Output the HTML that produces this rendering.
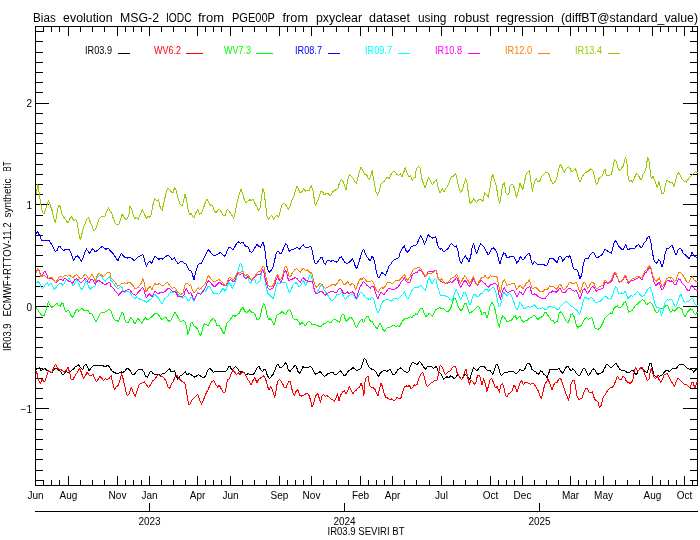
<!DOCTYPE html>
<html><head><meta charset="utf-8"><title>Bias evolution</title>
<style>
html,body{margin:0;padding:0;background:#fff;}
body{width:700px;height:540px;overflow:hidden;}
svg{display:block;will-change:transform;}
text{font-family:"Liberation Sans",sans-serif;fill:#000;}
</style></head><body>
<svg width="700" height="540" viewBox="0 0 700 540">
<rect width="700" height="540" fill="#fff"/>
<g stroke="#000" stroke-width="1" fill="none" shape-rendering="crispEdges">
<path d="M35.5 26.5H697.5V485.5H35.5Z"/>
<path d="M68.5 26.5v9.5M68.5 485.5v-9.5M117.5 26.5v9.5M117.5 485.5v-9.5M149.5 26.5v9.5M149.5 485.5v-9.5M197.5 26.5v9.5M197.5 485.5v-9.5M230.5 26.5v9.5M230.5 485.5v-9.5M279.5 26.5v9.5M279.5 485.5v-9.5M311.5 26.5v9.5M311.5 485.5v-9.5M360.5 26.5v9.5M360.5 485.5v-9.5M392.5 26.5v9.5M392.5 485.5v-9.5M441.5 26.5v9.5M441.5 485.5v-9.5M490.5 26.5v9.5M490.5 485.5v-9.5M522.5 26.5v9.5M522.5 485.5v-9.5M570.5 26.5v9.5M570.5 485.5v-9.5M603.5 26.5v9.5M603.5 485.5v-9.5M652.5 26.5v9.5M652.5 485.5v-9.5M684.5 26.5v9.5M684.5 485.5v-9.5M43.5 26.5v5.5M43.5 485.5v-5.5M51.5 26.5v5.5M51.5 485.5v-5.5M59.5 26.5v5.5M59.5 485.5v-5.5M80.5 26.5v5.5M80.5 485.5v-5.5M92.5 26.5v5.5M92.5 485.5v-5.5M104.5 26.5v5.5M104.5 485.5v-5.5M125.5 26.5v5.5M125.5 485.5v-5.5M133.5 26.5v5.5M133.5 485.5v-5.5M141.5 26.5v5.5M141.5 485.5v-5.5M161.5 26.5v5.5M161.5 485.5v-5.5M173.5 26.5v5.5M173.5 485.5v-5.5M185.5 26.5v5.5M185.5 485.5v-5.5M205.5 26.5v5.5M205.5 485.5v-5.5M213.5 26.5v5.5M213.5 485.5v-5.5M221.5 26.5v5.5M221.5 485.5v-5.5M242.5 26.5v5.5M242.5 485.5v-5.5M254.5 26.5v5.5M254.5 485.5v-5.5M266.5 26.5v5.5M266.5 485.5v-5.5M287.5 26.5v5.5M287.5 485.5v-5.5M295.5 26.5v5.5M295.5 485.5v-5.5M303.5 26.5v5.5M303.5 485.5v-5.5M323.5 26.5v5.5M323.5 485.5v-5.5M336.5 26.5v5.5M336.5 485.5v-5.5M348.5 26.5v5.5M348.5 485.5v-5.5M368.5 26.5v5.5M368.5 485.5v-5.5M376.5 26.5v5.5M376.5 485.5v-5.5M384.5 26.5v5.5M384.5 485.5v-5.5M404.5 26.5v5.5M404.5 485.5v-5.5M416.5 26.5v5.5M416.5 485.5v-5.5M429.5 26.5v5.5M429.5 485.5v-5.5M453.5 26.5v5.5M453.5 485.5v-5.5M465.5 26.5v5.5M465.5 485.5v-5.5M477.5 26.5v5.5M477.5 485.5v-5.5M498.5 26.5v5.5M498.5 485.5v-5.5M506.5 26.5v5.5M506.5 485.5v-5.5M514.5 26.5v5.5M514.5 485.5v-5.5M534.5 26.5v5.5M534.5 485.5v-5.5M546.5 26.5v5.5M546.5 485.5v-5.5M558.5 26.5v5.5M558.5 485.5v-5.5M578.5 26.5v5.5M578.5 485.5v-5.5M586.5 26.5v5.5M586.5 485.5v-5.5M595.5 26.5v5.5M595.5 485.5v-5.5M615.5 26.5v5.5M615.5 485.5v-5.5M627.5 26.5v5.5M627.5 485.5v-5.5M639.5 26.5v5.5M639.5 485.5v-5.5M660.5 26.5v5.5M660.5 485.5v-5.5M668.5 26.5v5.5M668.5 485.5v-5.5M676.5 26.5v5.5M676.5 485.5v-5.5M692.5 26.5v5.5M692.5 485.5v-5.5"/>
<path d="M35.5 480.5h7.5M697.5 480.5h-7.5M35.5 470.5h7.5M697.5 470.5h-7.5M35.5 459.5h7.5M697.5 459.5h-7.5M35.5 449.5h7.5M697.5 449.5h-7.5M35.5 439.5h7.5M697.5 439.5h-7.5M35.5 429.5h7.5M697.5 429.5h-7.5M35.5 419.5h7.5M697.5 419.5h-7.5M35.5 408.5h13.5M697.5 408.5h-14.5M35.5 398.5h7.5M697.5 398.5h-7.5M35.5 388.5h7.5M697.5 388.5h-7.5M35.5 378.5h7.5M697.5 378.5h-7.5M35.5 368.5h7.5M697.5 368.5h-7.5M35.5 357.5h7.5M697.5 357.5h-7.5M35.5 347.5h7.5M697.5 347.5h-7.5M35.5 337.5h7.5M697.5 337.5h-7.5M35.5 327.5h7.5M697.5 327.5h-7.5M35.5 317.5h7.5M697.5 317.5h-7.5M35.5 306.5h13.5M697.5 306.5h-14.5M35.5 296.5h7.5M697.5 296.5h-7.5M35.5 286.5h7.5M697.5 286.5h-7.5M35.5 276.5h7.5M697.5 276.5h-7.5M35.5 266.5h7.5M697.5 266.5h-7.5M35.5 255.5h7.5M697.5 255.5h-7.5M35.5 245.5h7.5M697.5 245.5h-7.5M35.5 235.5h7.5M697.5 235.5h-7.5M35.5 225.5h7.5M697.5 225.5h-7.5M35.5 215.5h7.5M697.5 215.5h-7.5M35.5 204.5h13.5M697.5 204.5h-14.5M35.5 194.5h7.5M697.5 194.5h-7.5M35.5 184.5h7.5M697.5 184.5h-7.5M35.5 174.5h7.5M697.5 174.5h-7.5M35.5 164.5h7.5M697.5 164.5h-7.5M35.5 153.5h7.5M697.5 153.5h-7.5M35.5 143.5h7.5M697.5 143.5h-7.5M35.5 133.5h7.5M697.5 133.5h-7.5M35.5 123.5h7.5M697.5 123.5h-7.5M35.5 113.5h7.5M697.5 113.5h-7.5M35.5 103.5h13.5M697.5 103.5h-14.5M35.5 92.5h7.5M697.5 92.5h-7.5M35.5 82.5h7.5M697.5 82.5h-7.5M35.5 72.5h7.5M697.5 72.5h-7.5M35.5 62.5h7.5M697.5 62.5h-7.5M35.5 52.5h7.5M697.5 52.5h-7.5M35.5 41.5h7.5M697.5 41.5h-7.5M35.5 31.5h7.5M697.5 31.5h-7.5"/>
<path d="M35 511.5H698M149.5 511.5v-9M344.5 511.5v-9M539.5 511.5v-9"/>
</g>
<path d="M36.0 369.3 L37.9 368.6 L39.3 367.6 L41.1 370.7 L43.1 369.6 L45.0 368.6 L46.9 370.4 L48.6 371.4 L50.3 372.1 L52.1 372.9 L53.6 370.0 L55.4 368.1 L57.1 369.0 L58.9 370.4 L60.7 371.4 L62.6 375.0 L64.3 373.6 L66.0 371.4 L67.9 372.9 L69.7 372.1 L71.4 370.7 L73.6 369.0 L75.4 366.7 L77.1 366.1 L78.9 364.7 L80.7 367.9 L82.6 369.6 L84.3 365.7 L86.0 364.3 L87.4 366.4 L88.9 370.4 L90.7 368.6 L92.6 366.1 L94.3 365.7 L96.0 365.0 L97.9 365.3 L99.7 365.7 L101.4 365.3 L103.1 365.7 L105.0 367.1 L106.9 365.7 L108.3 365.3 L110.0 367.9 L111.7 370.7 L113.6 372.1 L115.4 372.9 L117.4 373.9 L119.3 372.9 L121.1 371.9 L122.9 372.4 L124.6 371.4 L126.4 369.0 L128.3 368.6 L130.0 370.4 L132.4 375.0 L134.3 374.3 L136.1 372.1 L138.1 370.0 L140.0 369.3 L142.1 369.6 L143.9 372.1 L145.7 376.4 L147.6 377.1 L149.3 373.6 L151.0 370.7 L152.9 373.6 L154.7 374.3 L156.7 374.7 L158.6 374.3 L160.4 375.3 L162.4 373.6 L164.3 373.9 L166.1 372.1 L167.9 370.0 L169.6 368.6 L171.0 371.4 L172.9 371.9 L174.6 370.7 L176.1 375.7 L177.9 379.3 L179.6 376.4 L181.4 375.3 L183.6 373.6 L185.3 371.9 L187.1 375.0 L189.0 373.6 L190.7 374.3 L192.4 375.7 L194.3 377.1 L196.1 376.4 L198.1 374.7 L200.0 375.7 L201.9 377.1 L203.9 378.1 L205.7 375.7 L207.6 370.7 L209.6 368.1 L211.4 370.0 L213.3 372.1 L215.3 371.9 L217.6 371.4 L219.6 371.0 L221.4 371.4 L223.3 371.4 L225.0 371.4 L226.4 371.0 L228.3 367.1 L230.0 366.4 L231.7 370.0 L233.6 368.6 L235.4 366.4 L237.1 367.9 L238.9 370.7 L240.7 372.1 L242.6 371.4 L244.3 372.9 L246.0 375.0 L247.9 373.6 L249.7 374.3 L251.7 374.7 L253.6 374.3 L255.4 371.4 L257.1 367.9 L258.9 366.4 L260.7 370.0 L262.6 371.4 L264.3 369.0 L265.7 370.0 L267.4 375.7 L269.3 378.6 L271.1 376.7 L273.1 374.3 L275.0 370.0 L276.9 365.0 L278.3 364.3 L280.0 367.6 L281.7 367.1 L283.6 365.7 L285.4 362.4 L286.9 365.0 L288.3 370.0 L290.0 371.4 L291.7 369.3 L293.6 367.1 L295.0 365.3 L296.4 366.4 L297.9 371.4 L299.3 373.6 L301.1 370.7 L302.9 366.7 L304.6 367.6 L306.4 367.1 L308.3 367.6 L310.3 366.4 L312.1 367.9 L314.0 372.1 L315.7 374.3 L317.9 373.3 L320.0 371.4 L320.7 372.1 L322.4 374.3 L324.3 376.4 L326.1 375.7 L327.9 373.6 L329.6 373.3 L331.4 372.4 L333.3 372.9 L335.0 375.0 L336.7 374.3 L338.6 372.1 L340.4 371.0 L342.1 372.9 L343.9 375.7 L345.7 375.0 L347.6 372.1 L349.3 370.4 L351.0 369.3 L352.9 367.6 L354.7 368.6 L356.4 370.7 L358.1 370.0 L360.0 369.3 L361.4 367.1 L362.9 362.1 L364.3 358.6 L365.7 359.3 L367.1 362.9 L368.6 366.4 L370.4 368.1 L372.1 369.6 L373.9 370.0 L375.7 371.4 L377.1 374.3 L378.6 376.1 L380.4 372.9 L382.1 371.4 L383.9 370.7 L385.7 371.0 L387.6 371.0 L389.3 369.6 L390.7 370.0 L392.1 373.6 L393.9 375.0 L395.7 372.9 L397.6 370.0 L399.3 368.6 L400.7 367.9 L402.4 369.6 L404.3 371.0 L406.1 372.1 L407.6 372.9 L409.0 370.7 L410.4 365.7 L412.1 362.9 L413.9 362.9 L415.0 363.3 L417.1 365.0 L418.6 362.4 L419.7 361.4 L421.4 363.6 L423.1 366.4 L425.4 369.3 L427.1 367.1 L429.3 366.4 L431.4 366.7 L433.6 368.6 L435.4 367.1 L436.4 366.4 L437.9 370.7 L439.7 372.9 L441.7 375.0 L443.6 379.3 L445.4 377.6 L447.1 376.7 L448.9 377.9 L450.7 375.7 L452.6 376.7 L454.0 379.3 L455.7 377.1 L457.9 374.3 L459.7 377.1 L461.4 379.6 L463.1 377.1 L465.0 374.3 L466.9 375.7 L468.6 378.6 L470.0 379.3 L471.7 372.9 L473.6 367.6 L475.4 369.3 L476.9 370.7 L478.6 368.6 L480.7 366.4 L482.6 366.7 L484.3 366.7 L486.0 369.0 L487.9 370.7 L489.7 370.0 L491.1 372.1 L492.9 374.3 L494.3 370.0 L495.7 365.7 L497.1 363.9 L498.6 367.9 L500.0 372.9 L501.4 375.7 L503.1 373.6 L505.0 372.4 L507.1 372.9 L508.9 371.4 L510.0 371.4 L510.7 371.9 L512.4 371.4 L514.3 372.1 L516.1 373.9 L517.9 372.1 L520.0 369.6 L521.9 370.4 L523.6 371.0 L525.3 367.9 L527.1 363.9 L529.0 363.3 L530.4 364.7 L531.9 369.3 L533.6 370.7 L535.3 371.4 L537.1 373.6 L538.6 374.3 L540.4 371.0 L542.1 371.4 L543.9 374.3 L545.7 375.7 L547.1 378.1 L548.6 373.6 L550.0 369.6 L551.9 369.3 L553.9 370.0 L555.7 369.6 L557.6 369.3 L559.3 368.6 L561.0 371.4 L562.9 373.3 L564.7 370.0 L566.4 366.7 L568.1 366.7 L569.6 369.3 L571.4 370.7 L572.9 368.6 L574.7 370.7 L576.4 373.6 L578.1 375.3 L580.0 375.0 L581.9 371.4 L583.3 368.6 L584.7 368.6 L586.4 372.1 L588.6 375.7 L590.4 372.9 L592.1 370.0 L593.9 368.6 L595.7 371.4 L597.6 374.3 L599.6 373.6 L601.4 372.9 L603.3 371.4 L604.3 367.9 L605.0 367.6 L605.7 365.0 L607.4 364.3 L609.3 366.4 L611.1 367.9 L612.9 366.4 L614.6 364.3 L616.4 363.6 L618.3 367.1 L620.0 369.6 L622.1 370.4 L624.0 370.7 L625.7 371.4 L627.9 372.9 L629.7 372.9 L631.4 370.0 L633.1 370.7 L635.0 373.6 L636.4 375.0 L637.9 371.4 L639.7 369.3 L641.4 368.1 L643.1 369.6 L645.0 371.4 L646.9 372.9 L648.6 367.9 L650.0 362.9 L651.4 363.6 L652.6 370.0 L654.0 375.0 L655.7 376.4 L657.9 375.7 L659.7 376.1 L661.7 375.7 L663.6 372.9 L665.4 371.0 L667.1 370.4 L669.3 371.4 L671.1 370.0 L672.9 367.9 L674.6 368.6 L676.4 368.6 L678.3 365.7 L680.3 364.3 L682.1 364.3 L684.0 365.0 L685.7 366.7 L687.9 368.6 L690.0 369.3 L691.7 369.6 L693.6 372.1 L695.4 370.0 L697.1 368.6 L697.5 368.6" fill="none" stroke="#000000" stroke-width="1" stroke-linejoin="round" shape-rendering="crispEdges"/>
<path d="M36.0 371.4 L37.1 373.6 L38.6 380.7 L40.3 383.3 L42.1 379.3 L44.0 381.9 L45.4 380.7 L46.9 375.0 L48.3 370.7 L50.0 371.4 L51.7 372.9 L53.6 367.9 L55.4 364.3 L57.1 367.1 L58.9 370.0 L60.7 369.3 L62.6 370.7 L64.3 372.1 L66.0 370.7 L67.9 367.1 L69.3 371.4 L71.1 379.0 L73.1 379.3 L75.0 375.7 L76.9 372.9 L78.6 370.0 L80.0 368.6 L81.7 373.6 L83.6 378.6 L85.4 375.7 L87.1 372.1 L88.9 375.0 L90.7 375.7 L92.9 374.3 L94.6 378.6 L96.4 381.4 L98.3 379.3 L100.0 376.4 L101.7 378.1 L103.6 380.7 L105.4 378.6 L107.1 379.3 L109.3 378.1 L111.1 375.7 L112.9 383.6 L114.6 390.0 L116.4 386.4 L118.3 385.7 L120.0 380.0 L121.7 373.6 L123.6 380.7 L125.4 389.3 L127.1 395.7 L128.9 394.3 L130.0 390.7 L131.4 387.6 L133.3 392.9 L135.3 396.1 L137.1 390.7 L139.0 385.0 L140.7 383.3 L142.4 382.9 L144.3 381.9 L146.1 384.3 L148.6 387.9 L150.7 384.3 L152.9 380.7 L154.7 379.3 L156.7 376.4 L158.6 374.7 L160.4 376.4 L162.4 376.7 L164.3 378.1 L166.1 381.4 L167.9 387.1 L169.6 388.6 L171.4 383.6 L173.3 381.4 L175.0 377.1 L177.1 375.0 L179.0 378.6 L181.0 380.7 L182.9 382.1 L184.7 382.4 L186.1 389.3 L187.6 399.3 L188.9 405.0 L190.7 402.9 L192.4 399.3 L194.3 397.6 L196.1 395.7 L197.9 394.3 L199.6 400.0 L201.4 404.3 L203.3 400.7 L205.0 395.7 L206.7 392.1 L208.6 388.6 L210.4 383.6 L212.1 381.4 L213.9 380.7 L215.7 384.3 L217.6 387.1 L219.0 384.7 L220.7 387.9 L222.4 391.0 L223.9 392.9 L225.0 392.1 L225.7 389.3 L227.4 380.0 L229.3 378.6 L231.1 373.6 L232.9 370.0 L234.6 372.1 L236.4 374.3 L238.3 372.9 L240.0 374.3 L241.7 372.9 L243.6 372.1 L245.4 374.3 L247.1 378.6 L249.3 381.4 L251.1 384.7 L252.9 380.7 L255.0 377.6 L256.9 382.9 L258.6 379.3 L260.3 378.1 L262.1 376.7 L264.0 375.7 L265.7 379.3 L267.4 385.7 L268.9 390.0 L270.7 386.4 L272.6 390.0 L274.6 397.6 L276.0 390.7 L277.4 382.1 L279.3 379.3 L281.1 381.0 L282.9 384.3 L284.6 387.9 L286.4 387.1 L288.3 381.9 L290.0 381.0 L291.4 387.1 L292.9 392.9 L294.3 395.3 L296.0 391.4 L297.9 389.6 L299.7 395.7 L301.4 396.1 L303.1 395.3 L305.0 394.3 L306.9 393.3 L308.6 394.3 L310.3 399.3 L312.1 407.1 L314.0 402.1 L315.7 395.7 L317.9 393.6 L319.3 398.6 L320.0 400.7 L320.4 402.1 L322.1 395.7 L323.6 394.3 L325.3 396.1 L327.1 395.7 L329.0 397.1 L330.7 399.0 L332.4 399.6 L334.3 401.4 L336.1 397.6 L337.6 393.6 L339.0 400.7 L340.7 395.0 L342.4 392.1 L344.3 390.7 L346.1 393.6 L347.9 390.4 L349.3 386.7 L351.0 390.0 L352.9 393.6 L354.7 391.4 L356.4 390.0 L358.1 387.9 L359.6 387.1 L361.0 383.3 L362.4 386.4 L363.9 395.7 L365.3 378.6 L366.7 377.1 L368.1 376.7 L369.6 385.7 L371.4 387.1 L373.3 387.9 L375.0 389.3 L376.7 393.6 L378.1 395.7 L379.6 387.9 L381.0 383.6 L382.4 386.4 L383.9 392.9 L385.7 397.1 L387.6 398.1 L389.3 399.3 L391.4 399.0 L393.6 400.4 L395.3 400.0 L397.1 397.1 L399.0 399.0 L400.7 398.6 L402.4 392.9 L404.3 387.1 L406.1 385.7 L407.9 387.1 L409.3 385.0 L411.0 388.6 L412.9 387.1 L414.3 384.7 L415.0 385.7 L417.1 384.3 L418.9 378.6 L420.7 374.3 L422.6 372.1 L424.0 375.7 L425.4 382.1 L427.1 386.4 L429.3 385.0 L431.4 382.9 L433.6 381.4 L435.4 380.4 L436.9 380.7 L438.3 375.0 L440.0 365.7 L441.7 366.4 L443.6 370.7 L445.4 375.0 L447.1 372.9 L448.9 371.4 L450.7 370.7 L452.6 367.1 L454.0 366.4 L455.7 366.7 L457.1 372.9 L459.3 376.4 L461.1 379.3 L462.9 378.6 L464.6 372.1 L466.0 369.3 L467.4 375.7 L469.3 384.3 L471.1 380.0 L472.9 382.1 L474.6 384.3 L476.0 382.1 L477.4 375.7 L479.3 375.3 L480.7 379.3 L482.1 385.0 L483.6 378.6 L485.0 382.9 L486.9 391.4 L488.3 386.4 L490.0 380.0 L491.7 378.1 L493.6 382.9 L495.4 387.9 L497.1 386.4 L499.3 392.1 L501.1 385.0 L502.6 383.3 L504.0 387.9 L505.4 395.0 L506.9 397.1 L508.6 393.6 L510.0 392.9 L510.4 392.9 L512.1 390.7 L513.9 385.7 L515.3 386.4 L517.1 392.1 L519.0 385.7 L520.4 382.1 L521.9 380.7 L523.3 384.7 L525.0 382.4 L527.1 382.4 L529.0 383.6 L530.7 384.3 L532.9 382.9 L534.7 385.0 L536.4 387.9 L538.1 390.7 L540.0 395.7 L541.4 398.1 L542.9 392.9 L544.7 384.3 L546.4 382.1 L547.9 378.6 L549.6 382.9 L551.0 387.1 L552.1 390.0 L553.6 385.0 L555.3 382.9 L557.1 382.4 L558.6 379.3 L560.0 378.6 L561.4 380.0 L562.9 385.0 L564.7 390.0 L566.4 395.0 L568.6 400.0 L570.0 394.3 L571.0 384.3 L572.4 380.7 L574.3 380.7 L575.7 387.9 L577.1 396.4 L578.6 399.3 L580.4 399.0 L582.1 397.9 L583.9 392.1 L585.7 388.6 L587.1 387.9 L589.0 392.1 L590.7 392.9 L592.4 391.4 L594.3 398.6 L596.1 400.7 L597.9 401.4 L599.6 407.9 L601.4 405.0 L602.9 398.6 L604.3 395.7 L605.0 395.0 L605.4 393.6 L607.1 391.4 L608.9 389.0 L610.7 387.6 L612.6 387.1 L614.3 384.3 L616.0 380.0 L617.4 376.4 L619.3 379.3 L621.1 380.0 L622.9 376.4 L624.6 377.1 L626.4 381.4 L628.3 382.4 L630.0 383.3 L631.7 382.4 L633.1 378.6 L634.3 371.4 L635.4 367.6 L636.9 370.0 L638.6 370.7 L640.3 367.9 L642.1 367.6 L643.6 370.7 L645.4 375.7 L647.4 380.7 L649.3 378.6 L650.3 371.4 L651.4 368.6 L652.6 372.9 L654.0 377.1 L655.7 378.6 L657.1 375.7 L658.9 379.3 L660.7 382.1 L662.6 379.3 L664.0 375.0 L665.7 374.3 L667.1 373.6 L668.9 377.1 L670.7 380.7 L672.6 383.3 L674.3 386.4 L676.0 382.4 L677.9 378.6 L679.3 379.3 L681.1 381.4 L682.9 382.9 L684.6 384.3 L686.4 384.7 L688.3 386.4 L690.0 387.9 L691.7 382.4 L692.9 381.9 L694.3 386.4 L695.4 387.9 L696.4 382.9 L697.1 382.4 L697.5 382.4" fill="none" stroke="#ff0000" stroke-width="1" stroke-linejoin="round" shape-rendering="crispEdges"/>
<path d="M36.0 307.1 L37.9 310.0 L39.7 312.9 L42.1 315.7 L44.3 315.7 L46.0 310.0 L47.4 304.3 L48.6 301.9 L50.0 305.0 L51.7 307.6 L53.6 306.4 L55.7 304.3 L57.1 303.3 L58.6 305.7 L60.3 306.1 L61.7 302.9 L63.1 303.3 L64.3 307.9 L65.7 311.9 L67.4 310.4 L68.9 310.7 L70.7 315.0 L72.6 317.1 L74.3 314.3 L75.7 310.7 L77.4 309.3 L78.9 311.4 L80.7 309.3 L82.1 308.6 L84.0 310.4 L86.0 310.4 L87.9 310.0 L89.7 313.6 L91.7 313.6 L93.6 317.1 L95.7 321.9 L97.4 319.3 L99.3 315.0 L101.4 312.9 L103.6 312.1 L105.7 311.9 L107.9 310.0 L109.7 309.3 L111.1 311.4 L112.9 317.1 L114.6 320.0 L116.4 320.0 L118.3 321.9 L120.0 317.1 L121.7 312.9 L123.1 312.9 L124.6 318.6 L126.4 322.9 L128.3 322.1 L130.0 319.3 L130.7 317.4 L132.9 320.0 L134.7 324.0 L136.4 321.4 L138.1 318.3 L140.0 320.7 L141.9 323.6 L143.6 320.0 L145.7 317.9 L147.6 320.0 L149.3 318.9 L151.0 317.4 L152.9 315.7 L154.7 313.6 L156.4 313.1 L158.1 314.0 L160.0 317.1 L162.1 320.0 L164.3 317.9 L166.4 317.9 L168.6 321.4 L170.4 320.7 L172.1 317.9 L173.9 314.0 L175.0 312.6 L176.7 315.0 L178.6 318.6 L180.7 321.7 L182.9 320.7 L184.7 321.4 L186.4 325.7 L187.9 334.3 L189.3 330.0 L190.7 323.6 L192.1 322.1 L193.6 325.7 L195.7 327.1 L197.6 329.3 L199.3 333.6 L200.7 335.7 L202.4 329.3 L204.3 323.6 L206.1 324.6 L207.9 325.7 L210.0 322.1 L211.9 319.3 L213.6 318.6 L215.3 320.7 L217.1 325.7 L219.0 325.4 L220.7 327.9 L222.4 331.4 L223.9 334.0 L225.0 330.7 L225.4 328.6 L227.1 322.9 L229.3 320.7 L231.4 317.9 L233.1 315.0 L235.0 316.4 L237.1 315.0 L239.3 313.1 L241.1 309.3 L243.1 307.4 L244.6 310.7 L246.4 314.0 L248.3 311.1 L249.7 309.7 L251.4 312.1 L253.6 312.1 L255.4 315.0 L256.9 319.3 L258.9 319.3 L260.7 315.0 L262.1 307.9 L263.6 303.6 L265.4 306.4 L266.9 315.0 L268.6 320.0 L270.3 318.3 L272.1 321.4 L274.0 324.6 L275.4 320.7 L276.9 315.0 L278.9 314.3 L280.7 312.9 L282.1 311.4 L284.0 313.6 L285.7 314.3 L287.4 311.1 L289.7 309.7 L291.4 313.1 L293.1 318.3 L295.0 319.7 L297.1 319.7 L298.9 322.1 L300.0 325.0 L301.7 322.6 L303.6 323.6 L305.4 326.0 L307.1 322.6 L308.9 321.4 L310.7 322.6 L312.1 324.6 L314.0 324.0 L316.0 325.0 L317.9 325.7 L320.0 327.1 L320.7 326.9 L322.4 324.6 L324.3 323.6 L326.1 322.9 L327.9 321.4 L329.3 322.1 L331.0 322.6 L332.9 320.0 L334.7 319.3 L336.4 320.3 L338.1 321.4 L339.6 322.6 L341.0 316.9 L342.4 314.3 L343.9 315.0 L345.3 319.3 L346.7 321.4 L348.6 318.6 L350.4 317.4 L352.1 318.3 L353.9 322.1 L355.3 325.7 L356.4 327.9 L358.1 325.0 L360.0 320.7 L361.9 319.3 L363.6 322.9 L365.0 319.3 L366.7 316.9 L368.6 316.9 L370.4 321.4 L372.1 321.7 L373.9 324.6 L375.7 327.1 L377.1 328.6 L378.6 325.7 L380.0 323.6 L381.4 325.7 L382.9 329.3 L384.7 331.1 L386.4 328.6 L388.1 327.4 L390.0 326.9 L391.9 326.0 L393.9 325.4 L395.7 326.4 L397.6 325.7 L399.3 326.9 L401.0 323.6 L402.9 320.7 L404.7 318.6 L406.4 318.3 L408.6 317.9 L410.4 316.9 L412.1 317.4 L413.9 315.0 L415.0 315.4 L415.7 313.9 L417.4 315.0 L419.3 310.0 L421.1 308.1 L422.9 309.3 L424.3 313.9 L426.0 316.4 L427.9 315.0 L429.3 313.3 L430.7 314.7 L432.1 316.4 L433.6 313.6 L435.4 310.0 L437.4 308.6 L439.7 307.6 L441.4 308.6 L443.1 308.1 L445.0 310.0 L446.9 312.1 L448.9 310.7 L450.7 308.6 L452.6 302.1 L454.0 297.9 L455.7 298.6 L457.4 304.3 L459.3 308.6 L461.1 310.4 L462.9 308.6 L464.6 303.6 L466.0 302.9 L467.4 307.1 L469.3 313.3 L471.1 312.4 L473.1 310.7 L475.0 309.3 L476.9 307.1 L478.6 306.4 L480.3 309.3 L482.1 315.0 L483.6 312.9 L485.0 312.4 L486.9 317.9 L488.6 313.6 L490.3 305.0 L492.1 302.1 L494.0 305.7 L495.7 312.1 L497.4 320.7 L499.3 327.1 L501.1 319.3 L502.9 315.7 L504.6 317.9 L506.4 321.0 L508.3 321.4 L510.0 320.0 L510.7 320.4 L512.4 319.6 L513.9 316.4 L515.3 315.7 L516.7 319.3 L518.6 317.1 L520.0 316.4 L521.4 319.6 L523.3 322.1 L525.0 321.0 L527.1 320.7 L529.0 318.6 L530.7 317.6 L532.4 316.7 L534.3 315.3 L536.1 317.1 L537.9 319.6 L539.6 317.9 L541.4 317.1 L543.3 315.7 L545.0 311.9 L546.4 312.9 L548.1 315.7 L550.0 317.9 L551.4 320.7 L552.9 320.4 L554.6 323.3 L556.1 321.9 L557.6 321.0 L559.0 313.6 L560.7 311.9 L562.1 313.3 L563.9 317.1 L565.7 320.7 L567.9 322.9 L569.6 319.3 L571.0 314.3 L572.4 313.9 L574.3 317.1 L576.0 323.6 L577.6 328.1 L579.3 326.4 L581.4 325.7 L583.3 321.4 L585.0 318.6 L586.7 317.6 L588.6 319.6 L590.4 318.1 L591.9 317.6 L593.3 322.1 L595.0 328.1 L596.7 329.0 L598.6 329.0 L600.4 327.6 L602.1 324.3 L603.9 320.7 L605.0 317.9 L606.9 316.4 L608.6 314.6 L610.3 312.9 L612.1 313.6 L614.0 308.3 L615.7 306.9 L617.1 305.7 L618.9 307.9 L620.7 307.4 L622.6 305.4 L624.0 302.6 L625.4 301.7 L626.9 305.7 L628.6 312.1 L630.3 311.4 L632.1 310.7 L634.0 307.4 L635.7 305.0 L637.4 304.0 L639.3 302.1 L641.1 300.7 L642.9 299.7 L644.6 301.1 L646.4 305.0 L648.3 303.1 L650.0 302.6 L651.7 303.1 L653.6 307.1 L655.4 311.4 L657.4 312.9 L659.3 309.3 L661.1 308.3 L662.9 308.9 L664.6 307.1 L666.4 305.0 L667.9 305.7 L669.3 310.0 L670.7 312.6 L672.6 310.0 L674.3 311.1 L676.4 309.3 L678.3 307.1 L680.0 307.9 L681.7 308.6 L683.1 312.9 L685.0 317.1 L686.9 312.9 L688.6 310.7 L690.7 308.9 L692.6 310.0 L694.3 313.6 L696.0 314.3 L697.1 312.1 L697.5 312.1" fill="none" stroke="#00ff00" stroke-width="1" stroke-linejoin="round" shape-rendering="crispEdges"/>
<path d="M36.0 234.3 L37.4 231.4 L38.9 234.3 L40.3 236.4 L41.4 240.7 L43.6 241.0 L45.7 240.7 L49.3 240.7 L51.4 244.3 L53.6 247.9 L55.4 251.4 L57.1 250.7 L58.6 246.7 L60.3 246.7 L62.1 249.3 L64.0 250.4 L66.0 249.0 L67.9 250.0 L69.3 249.0 L71.4 254.3 L73.6 260.4 L75.4 257.1 L77.1 255.7 L79.3 257.9 L81.1 261.4 L82.9 258.6 L84.6 252.9 L86.4 249.0 L88.3 251.4 L89.7 253.3 L91.4 250.0 L92.9 248.6 L95.0 251.9 L96.9 250.7 L98.6 249.3 L100.7 247.6 L102.6 246.4 L104.3 248.1 L106.0 249.3 L107.9 248.1 L109.7 250.0 L111.4 252.1 L113.1 253.6 L115.0 256.4 L116.4 258.6 L117.9 261.0 L119.7 256.4 L121.4 253.3 L123.1 255.7 L125.0 257.6 L127.1 258.1 L128.9 257.6 L130.0 257.1 L132.1 258.6 L134.3 261.0 L136.1 258.6 L138.6 256.7 L140.7 255.7 L142.9 254.7 L144.3 259.3 L146.4 266.4 L148.1 262.9 L150.0 261.4 L151.9 263.3 L153.3 259.3 L155.0 256.4 L157.1 258.1 L159.0 259.3 L161.0 258.1 L162.9 259.3 L165.0 257.1 L166.7 255.7 L168.6 255.3 L170.7 257.9 L172.4 260.0 L174.3 257.6 L176.1 261.0 L178.1 263.9 L180.0 262.1 L181.9 261.4 L183.9 262.9 L185.7 263.3 L187.6 267.1 L189.3 270.4 L191.0 271.0 L192.4 274.3 L194.0 280.0 L195.7 272.1 L197.6 265.7 L199.3 263.3 L201.0 263.6 L202.9 260.0 L204.7 257.1 L206.7 252.4 L208.6 249.6 L210.4 252.1 L212.1 254.3 L213.9 255.7 L216.4 255.0 L218.6 253.6 L220.4 252.4 L222.1 254.3 L223.9 255.7 L225.0 256.4 L226.9 251.4 L228.6 247.6 L230.7 247.9 L233.1 250.0 L235.0 246.4 L236.9 242.9 L238.6 241.9 L240.7 243.3 L242.9 242.4 L244.6 245.0 L246.4 246.7 L248.3 247.1 L250.0 251.4 L251.7 252.4 L253.6 250.0 L255.4 246.7 L256.9 244.3 L258.6 246.1 L260.3 247.1 L261.7 244.3 L263.1 241.9 L264.6 247.9 L266.0 259.3 L267.4 269.3 L269.3 272.1 L271.1 270.4 L273.1 267.1 L274.7 260.0 L276.4 252.1 L278.3 251.4 L280.0 253.6 L281.7 252.9 L283.6 247.9 L285.4 243.9 L286.9 244.3 L288.3 249.3 L289.7 251.4 L291.7 249.6 L293.6 249.3 L295.7 248.1 L297.4 247.6 L299.3 249.3 L301.1 247.1 L303.1 244.7 L305.0 247.1 L306.9 247.9 L308.6 247.1 L310.7 246.1 L312.1 250.0 L313.6 258.6 L315.4 263.9 L317.1 262.9 L318.9 260.4 L320.0 259.3 L320.7 257.6 L322.4 257.9 L323.9 262.9 L325.3 264.3 L327.1 261.0 L329.0 260.4 L330.7 261.4 L332.9 260.4 L334.7 261.4 L336.4 262.1 L338.1 260.7 L340.0 257.6 L341.4 256.7 L343.3 260.0 L345.3 262.9 L347.1 263.3 L349.3 262.4 L351.0 260.4 L352.4 258.6 L353.9 262.1 L355.3 266.4 L356.7 268.6 L358.6 263.6 L360.4 257.1 L361.9 252.1 L363.6 249.3 L365.3 253.6 L367.1 257.1 L369.0 259.6 L370.4 261.0 L371.9 256.4 L373.3 257.6 L374.7 262.1 L376.1 270.7 L377.6 276.4 L378.9 278.1 L380.4 275.0 L381.9 272.4 L383.6 273.9 L385.3 275.3 L387.1 271.4 L389.0 266.1 L390.7 264.3 L392.9 261.0 L394.7 259.6 L396.7 258.6 L398.6 257.9 L400.4 252.1 L402.4 248.6 L404.3 245.3 L405.7 250.0 L407.6 252.4 L409.3 250.0 L411.0 247.1 L413.3 245.7 L415.0 245.7 L417.1 243.9 L418.9 239.3 L420.7 235.7 L422.6 238.6 L424.6 244.3 L426.4 240.0 L428.3 234.7 L430.0 236.4 L432.1 238.1 L434.0 237.6 L435.7 236.7 L437.1 242.9 L438.6 247.6 L440.3 249.3 L441.7 248.1 L443.6 251.9 L445.7 250.4 L447.9 248.6 L449.7 245.7 L451.4 243.6 L453.6 245.7 L455.0 246.7 L456.4 245.7 L457.9 250.7 L459.6 260.4 L461.4 263.3 L463.1 259.0 L465.4 255.7 L467.1 258.6 L468.9 262.1 L470.7 256.4 L472.1 247.9 L473.6 243.6 L475.0 249.0 L476.7 253.9 L478.6 248.1 L480.7 243.3 L482.6 245.7 L484.6 247.9 L486.4 251.4 L488.3 255.0 L490.0 252.4 L491.7 248.6 L493.6 247.9 L495.3 250.0 L496.9 252.4 L498.3 258.6 L500.0 264.3 L501.7 257.9 L503.6 252.9 L505.0 253.3 L506.9 257.6 L508.6 257.9 L510.0 256.7 L511.9 256.7 L513.6 256.1 L515.0 258.6 L516.7 263.3 L518.6 260.7 L520.4 256.4 L522.4 260.0 L524.3 258.6 L526.1 255.7 L527.9 253.9 L529.6 253.6 L531.0 260.0 L532.4 264.3 L534.3 261.4 L536.1 262.9 L537.9 265.0 L540.0 264.3 L541.9 265.0 L543.9 264.7 L546.1 266.1 L547.9 263.6 L549.6 258.6 L551.4 259.0 L553.3 258.6 L555.3 260.7 L557.1 262.9 L559.0 257.1 L561.0 256.7 L562.9 261.4 L564.7 258.6 L566.4 256.7 L568.6 257.1 L570.0 255.7 L571.4 260.0 L572.9 267.1 L574.7 270.0 L576.4 269.3 L578.1 272.1 L580.0 279.0 L581.9 274.3 L583.3 264.3 L585.0 258.6 L586.7 259.0 L588.6 257.9 L590.4 254.3 L592.4 252.9 L593.9 252.4 L595.7 256.4 L597.1 258.1 L599.0 256.4 L601.0 255.7 L602.9 253.3 L604.3 250.0 L605.0 249.3 L607.1 250.7 L609.3 252.4 L611.4 253.3 L612.9 247.9 L614.3 242.1 L615.7 240.7 L617.4 243.6 L619.3 247.1 L621.1 248.6 L622.9 250.0 L624.3 247.1 L625.7 244.7 L627.1 248.6 L628.6 250.0 L630.3 248.1 L632.6 248.6 L635.0 247.9 L636.9 245.3 L638.6 244.7 L640.3 246.7 L641.7 247.9 L643.6 243.6 L645.7 241.4 L647.4 237.6 L649.3 236.4 L650.7 241.4 L652.1 250.7 L653.6 258.6 L655.0 262.1 L656.9 263.3 L658.6 259.3 L660.3 261.4 L662.1 267.1 L663.9 260.7 L665.4 252.1 L666.9 248.6 L668.9 247.9 L670.7 246.1 L672.1 245.7 L673.6 248.6 L675.0 253.3 L676.4 255.0 L678.1 250.0 L679.7 248.6 L681.4 249.3 L683.1 252.9 L685.0 254.7 L686.9 256.4 L689.3 259.0 L690.7 255.7 L692.1 252.4 L694.0 255.7 L696.0 257.1 L697.1 257.1 L697.5 257.1" fill="none" stroke="#0000ff" stroke-width="1" stroke-linejoin="round" shape-rendering="crispEdges"/>
<path d="M36.3 283.1 L37.8 281.6 L39.4 282.5 L40.9 287.1 L42.4 288.3 L43.8 287.1 L45.5 284.3 L47.2 282.5 L48.9 285.4 L50.7 283.1 L52.4 286.0 L54.1 289.4 L55.8 287.7 L57.5 285.4 L59.3 283.7 L61.0 283.1 L62.7 285.4 L64.4 283.7 L66.2 279.7 L67.9 279.1 L69.6 278.5 L71.3 283.1 L73.0 286.0 L74.8 283.1 L76.5 279.7 L78.2 282.0 L79.9 287.1 L82.2 290.0 L83.9 286.0 L85.7 280.8 L87.2 282.5 L88.5 286.6 L90.3 289.4 L92.0 287.7 L93.7 286.6 L95.4 286.0 L96.6 278.0 L98.3 276.2 L100.0 275.7 L101.7 276.2 L103.5 279.7 L105.2 281.4 L106.9 279.1 L108.6 277.4 L110.0 276.8 L110.7 280.4 L112.5 282.1 L114.2 284.4 L115.9 286.7 L117.6 289.0 L119.3 287.6 L121.1 286.1 L122.4 288.1 L123.4 291.9 L125.1 292.2 L126.8 291.5 L128.5 291.3 L130.3 293.0 L132.0 295.9 L133.7 297.6 L135.1 298.7 L136.6 297.0 L138.3 298.2 L140.0 299.3 L141.7 299.9 L143.5 300.5 L145.2 301.4 L146.9 302.2 L148.6 301.0 L150.3 299.3 L152.1 298.2 L153.4 295.9 L154.9 294.2 L156.6 295.9 L158.0 297.6 L159.5 299.9 L161.0 303.3 L162.2 303.9 L163.3 301.6 L164.7 298.7 L166.4 297.6 L167.9 296.5 L169.3 293.6 L170.7 291.9 L172.1 292.2 L173.6 292.4 L175.0 290.7 L176.2 290.1 L177.1 291.9 L178.5 294.7 L179.8 297.0 L181.3 297.6 L183.0 298.2 L184.2 296.5 L185.0 295.9 L186.3 297.5 L187.8 300.3 L189.4 300.9 L190.9 296.9 L192.4 298.6 L193.8 301.8 L195.5 298.0 L197.2 293.5 L198.4 292.3 L199.7 294.0 L201.2 292.9 L203.0 290.6 L204.7 288.9 L205.8 291.7 L207.5 287.1 L208.9 286.0 L210.4 287.7 L212.1 291.2 L213.9 293.5 L215.6 293.8 L217.3 293.5 L219.0 294.3 L220.4 292.9 L221.9 289.4 L223.4 288.3 L224.8 291.2 L226.1 289.4 L227.6 285.4 L229.1 282.0 L230.5 284.3 L232.2 288.3 L233.7 286.0 L235.1 283.1 L236.5 278.5 L238.0 271.1 L239.5 264.8 L240.8 263.3 L242.0 266.5 L243.1 271.1 L244.5 276.8 L246.0 279.1 L247.7 277.4 L249.1 280.8 L250.6 283.7 L252.1 280.8 L253.5 278.5 L254.8 279.7 L256.3 283.7 L257.8 283.1 L259.2 281.4 L260.0 280.8 L261.7 272.2 L262.8 269.3 L264.0 272.2 L265.1 280.3 L266.5 288.9 L268.2 294.0 L269.9 295.2 L271.6 296.9 L273.1 298.6 L274.5 295.2 L275.9 287.1 L277.4 282.5 L279.1 283.7 L280.8 283.1 L282.5 282.5 L284.3 282.3 L286.0 283.1 L287.4 286.6 L288.9 291.7 L290.0 292.3 L291.5 288.9 L293.1 284.8 L294.6 283.7 L296.1 282.5 L297.7 284.3 L299.2 287.1 L300.7 285.4 L302.3 282.5 L303.8 280.3 L305.3 285.1 L306.6 283.7 L308.0 279.7 L309.5 276.2 L310.7 273.4 L311.8 278.0 L313.0 283.7 L314.1 288.9 L315.6 292.9 L317.2 291.7 L318.7 289.4 L320.2 286.0 L321.6 285.1 L322.9 287.1 L324.4 290.6 L325.9 292.3 L327.5 294.6 L329.0 296.9 L330.5 299.2 L331.9 300.9 L333.6 299.2 L335.0 298.0 L336.9 294.6 L338.6 294.6 L340.3 294.0 L341.5 292.0 L342.9 295.2 L344.3 297.5 L345.7 299.8 L347.2 296.9 L348.9 295.7 L350.7 294.6 L352.4 294.0 L354.1 296.3 L355.5 298.4 L357.0 299.2 L358.5 296.3 L360.1 292.9 L361.6 292.3 L363.1 294.0 L364.4 296.3 L366.2 298.0 L367.9 298.4 L369.6 299.8 L371.3 298.0 L372.7 297.5 L374.2 300.3 L375.7 307.2 L377.1 311.2 L378.2 313.0 L379.6 310.1 L381.1 304.9 L382.8 301.5 L384.5 300.3 L386.2 299.2 L388.0 299.2 L389.7 300.3 L391.4 301.5 L392.9 299.2 L394.3 298.4 L396.0 298.6 L397.7 299.2 L399.4 297.5 L401.2 295.7 L402.9 294.0 L404.4 291.5 L405.5 294.0 L406.7 298.0 L408.0 299.2 L409.2 296.9 L410.0 295.2 L410.7 292.5 L412.5 289.6 L414.2 287.9 L415.9 287.3 L417.6 287.9 L419.3 286.2 L420.8 285.4 L422.2 287.0 L423.9 289.0 L425.4 290.2 L426.6 286.2 L427.7 280.4 L429.1 277.5 L430.5 280.4 L432.0 283.9 L433.5 281.0 L435.1 278.7 L436.2 279.3 L437.4 285.6 L438.9 290.7 L440.4 294.8 L441.7 295.9 L443.5 295.3 L445.2 295.9 L446.9 296.5 L448.6 297.6 L450.3 299.9 L452.1 300.5 L453.8 295.9 L455.3 290.7 L456.4 289.6 L457.8 292.5 L459.2 296.5 L460.7 299.4 L462.2 296.5 L463.5 293.0 L464.9 292.2 L466.4 295.3 L467.9 299.4 L469.3 303.9 L470.7 304.5 L472.1 298.8 L473.6 294.8 L475.0 294.2 L476.4 295.9 L477.9 297.1 L479.4 295.3 L480.8 293.6 L482.5 293.0 L484.0 290.7 L485.0 289.6 L486.9 289.4 L488.6 291.2 L490.3 289.4 L492.1 287.7 L493.8 287.7 L495.2 290.0 L496.6 295.2 L497.8 302.1 L498.9 306.6 L500.4 305.5 L501.8 299.8 L503.0 294.0 L504.3 292.3 L505.8 294.6 L507.5 295.7 L509.3 293.5 L510.8 294.6 L512.1 297.5 L513.9 302.1 L515.4 307.2 L517.0 310.1 L518.5 306.6 L519.9 302.6 L521.1 303.2 L522.5 306.6 L524.2 308.9 L525.9 307.8 L527.6 306.6 L529.4 307.2 L531.1 306.6 L532.8 306.1 L534.2 304.6 L535.7 306.1 L537.4 308.4 L539.1 308.9 L540.8 308.4 L542.6 307.8 L544.3 308.9 L546.0 310.1 L547.7 307.8 L549.4 306.1 L551.2 306.6 L552.9 307.2 L554.6 307.8 L556.3 308.9 L558.0 310.1 L559.2 308.4 L560.0 307.2 L561.9 304.9 L563.6 303.2 L565.3 301.8 L566.5 301.5 L568.2 303.2 L569.9 304.9 L571.6 306.4 L573.4 307.2 L575.1 308.9 L576.8 310.1 L578.2 312.4 L579.3 314.1 L580.8 311.2 L582.3 304.4 L583.7 299.2 L585.1 296.9 L586.6 298.0 L588.3 299.2 L590.0 298.0 L591.5 297.5 L593.1 299.2 L594.6 301.5 L596.3 303.0 L598.0 302.1 L599.8 301.5 L601.5 300.3 L603.2 298.0 L604.9 296.5 L606.4 296.9 L608.0 298.6 L609.9 299.2 L611.2 298.6 L612.6 295.2 L614.1 290.0 L615.6 286.6 L617.0 288.3 L618.4 292.9 L619.8 294.0 L621.6 292.9 L623.3 294.0 L625.0 291.5 L626.4 294.0 L627.9 299.2 L629.4 296.9 L630.8 295.7 L632.5 296.3 L634.0 294.9 L635.0 294.6 L635.7 293.1 L637.4 291.5 L639.0 293.1 L640.6 295.3 L642.2 296.4 L643.8 295.8 L645.4 293.7 L647.0 290.5 L648.6 288.3 L650.2 287.2 L651.6 290.5 L652.9 295.8 L654.2 301.2 L655.6 305.5 L657.2 307.6 L658.8 307.1 L659.9 309.8 L661.5 315.2 L663.1 310.9 L664.2 305.5 L665.6 301.2 L666.9 299.9 L668.5 300.1 L670.1 299.6 L671.4 299.3 L672.8 301.7 L674.2 305.0 L675.5 306.6 L677.1 303.9 L678.5 299.1 L679.8 295.8 L681.1 294.5 L682.5 298.0 L683.9 301.2 L685.2 302.3 L686.8 301.4 L688.4 301.7 L690.0 300.1 L691.6 298.5 L692.9 299.1 L694.3 302.3 L695.7 305.0 L696.8 305.5 L697.5 305.5" fill="none" stroke="#00ffff" stroke-width="1" stroke-linejoin="round" shape-rendering="crispEdges"/>
<path d="M36.3 271.1 L37.8 268.8 L39.2 270.5 L40.9 276.2 L42.4 275.7 L43.8 272.2 L45.2 271.6 L46.6 273.9 L48.1 278.0 L49.7 278.5 L51.2 278.0 L53.0 279.7 L54.7 282.0 L56.2 283.1 L57.5 281.4 L59.3 279.7 L61.0 279.1 L62.7 280.8 L64.4 278.5 L66.2 279.1 L67.9 280.8 L69.6 281.4 L71.3 282.0 L72.7 283.1 L74.8 279.7 L76.5 278.5 L78.2 279.7 L79.9 282.0 L81.6 282.5 L83.4 280.8 L85.1 278.5 L86.5 279.1 L88.0 282.0 L89.1 282.5 L90.8 279.7 L92.6 279.1 L94.0 282.0 L95.4 284.8 L96.8 281.4 L98.3 280.3 L100.0 281.4 L101.7 282.5 L103.5 283.7 L105.2 284.8 L106.9 283.7 L108.6 282.5 L110.0 283.1 L110.7 286.1 L112.5 287.3 L114.2 289.6 L115.9 291.9 L117.6 293.6 L118.8 295.3 L120.5 293.0 L122.2 291.3 L123.9 291.3 L125.7 290.7 L127.4 289.6 L129.1 289.0 L130.8 291.3 L132.5 293.6 L134.3 294.7 L136.0 295.3 L137.7 293.0 L139.4 291.3 L141.2 289.0 L142.6 287.6 L143.8 289.6 L144.9 293.6 L146.3 297.6 L147.7 295.9 L149.2 293.6 L150.7 295.3 L152.1 297.0 L153.4 294.2 L154.9 291.3 L156.4 292.4 L158.0 293.6 L159.5 293.0 L161.2 292.2 L163.0 292.4 L164.7 291.9 L166.4 290.1 L168.1 288.1 L169.8 289.0 L171.6 290.7 L173.3 291.9 L175.0 291.3 L176.4 293.0 L177.9 296.5 L179.4 297.0 L180.8 296.5 L182.5 297.0 L184.0 294.7 L185.0 291.3 L186.3 288.9 L187.8 291.7 L189.2 294.0 L190.6 292.3 L192.1 295.7 L193.8 299.8 L195.5 296.9 L197.2 294.0 L198.9 293.5 L200.7 294.6 L202.4 292.3 L204.1 290.0 L205.8 286.6 L207.5 282.0 L208.9 280.8 L210.4 282.5 L212.1 284.8 L213.9 286.6 L215.6 286.0 L217.3 284.3 L219.0 282.5 L220.7 283.1 L222.5 284.8 L224.2 286.0 L225.9 285.8 L227.3 283.7 L228.8 280.8 L230.5 279.7 L232.2 280.8 L233.7 282.0 L235.1 279.7 L236.5 276.2 L238.0 273.4 L239.7 274.5 L241.4 273.9 L242.9 273.9 L244.3 277.4 L246.0 278.5 L247.7 276.8 L248.9 277.4 L250.2 279.7 L251.7 280.3 L253.2 278.5 L254.6 276.8 L256.3 275.1 L258.0 273.9 L260.0 275.1 L261.7 271.6 L262.8 269.9 L264.2 273.9 L265.3 279.7 L266.5 283.7 L268.2 288.3 L269.9 289.4 L271.6 288.9 L273.4 287.7 L274.7 284.8 L276.2 279.7 L277.6 276.2 L279.1 279.7 L280.8 282.5 L282.5 279.1 L283.9 273.4 L285.1 270.5 L286.6 272.2 L287.7 278.0 L288.9 280.3 L290.6 279.7 L292.3 279.1 L294.0 278.5 L295.4 277.4 L296.9 278.5 L298.6 280.8 L300.3 282.5 L301.8 279.7 L303.2 277.4 L304.9 279.7 L306.6 280.8 L308.4 281.2 L310.1 281.6 L311.8 281.2 L313.0 283.7 L314.1 288.9 L315.6 294.0 L317.2 293.5 L318.7 292.3 L320.4 291.7 L322.1 291.2 L323.6 293.5 L325.2 295.2 L327.1 293.5 L328.7 292.3 L330.5 292.0 L332.1 291.7 L333.6 291.7 L335.0 292.3 L336.9 292.0 L338.6 289.4 L340.3 288.3 L342.1 290.6 L343.8 294.0 L345.5 293.5 L347.2 291.7 L348.9 293.5 L350.7 292.9 L352.4 291.7 L354.1 293.5 L355.5 296.9 L356.6 298.6 L358.1 292.9 L359.8 287.7 L361.6 284.3 L363.3 281.6 L365.0 283.1 L366.7 285.1 L368.5 286.6 L370.2 288.3 L371.9 286.2 L373.6 286.6 L375.0 290.6 L376.5 295.7 L378.0 299.2 L379.6 294.6 L381.1 292.3 L382.8 294.0 L384.5 294.0 L386.2 291.7 L387.6 289.4 L389.1 288.5 L390.8 288.9 L392.6 289.7 L394.3 289.4 L396.0 288.5 L397.7 287.1 L399.4 285.1 L401.2 282.0 L402.9 280.3 L404.4 278.0 L405.8 280.8 L407.5 282.5 L409.2 282.0 L410.0 282.0 L411.9 275.8 L413.6 273.5 L415.3 272.7 L417.1 272.4 L418.5 270.7 L419.9 269.7 L421.6 271.6 L423.4 274.1 L425.4 277.0 L426.8 274.7 L428.5 271.2 L430.3 271.8 L432.0 272.0 L433.7 271.8 L435.1 270.1 L436.2 270.7 L437.4 275.3 L438.5 279.3 L440.0 281.0 L441.7 281.6 L443.5 282.7 L445.2 283.3 L446.9 283.3 L448.6 282.7 L450.3 281.6 L452.1 282.7 L453.8 280.4 L455.3 279.3 L456.6 277.5 L458.0 280.4 L459.2 284.4 L460.7 287.3 L462.2 285.0 L463.8 281.6 L465.3 280.4 L466.8 282.7 L468.1 285.0 L469.5 286.2 L471.0 284.4 L472.5 280.4 L473.6 278.5 L474.8 281.6 L476.2 284.4 L477.5 285.4 L479.0 282.7 L480.8 280.4 L482.1 280.8 L483.6 282.7 L485.0 283.3 L486.9 286.0 L488.6 287.1 L490.3 285.1 L492.1 284.3 L493.8 283.7 L495.5 283.5 L497.0 285.1 L498.1 290.6 L499.3 296.3 L500.4 299.2 L501.8 294.0 L503.2 289.4 L504.3 287.7 L505.5 290.0 L507.0 292.3 L508.7 292.3 L510.4 291.2 L512.1 290.8 L513.9 290.6 L515.4 293.5 L516.7 296.9 L518.5 294.0 L519.9 291.7 L521.3 292.9 L523.0 295.2 L524.8 291.7 L526.5 288.3 L528.2 287.7 L529.6 286.2 L530.7 289.4 L531.9 293.5 L533.0 295.2 L534.5 294.0 L536.2 294.6 L538.0 296.3 L539.7 297.5 L541.4 298.0 L543.1 298.0 L545.2 298.4 L546.6 296.3 L548.3 294.6 L549.8 292.0 L551.2 292.3 L552.9 290.8 L554.6 291.7 L556.3 292.3 L558.0 290.6 L559.2 288.9 L560.0 288.3 L561.3 290.6 L562.8 292.9 L564.4 292.9 L565.9 291.5 L567.6 289.4 L569.3 288.3 L571.1 288.9 L572.8 290.6 L574.5 291.2 L576.2 290.0 L577.7 293.5 L578.9 296.9 L580.0 299.2 L581.4 295.2 L583.1 290.0 L584.6 288.9 L586.0 291.2 L587.4 293.5 L588.9 291.7 L590.4 288.9 L592.0 287.1 L593.5 286.6 L594.9 288.9 L596.5 291.2 L598.0 290.0 L599.8 289.4 L601.5 288.9 L603.0 288.3 L604.4 283.1 L605.7 282.0 L607.2 283.1 L608.9 283.1 L610.7 282.5 L612.2 280.3 L613.5 276.2 L614.9 273.4 L616.4 275.1 L617.9 279.1 L619.3 282.3 L621.0 281.6 L622.7 280.8 L624.4 277.4 L625.6 276.2 L626.7 279.7 L628.2 283.1 L629.6 282.5 L631.3 280.8 L633.0 280.3 L635.0 279.7 L635.7 279.2 L637.4 278.1 L639.0 277.6 L640.6 278.6 L642.0 279.7 L643.3 276.5 L644.9 273.3 L646.5 272.2 L648.1 269.5 L649.7 267.9 L650.8 268.4 L651.9 273.3 L653.2 279.2 L654.5 283.5 L656.2 285.6 L657.8 283.5 L659.2 282.4 L660.2 285.6 L661.5 289.4 L662.8 289.4 L664.2 286.7 L665.8 282.4 L667.4 280.8 L669.1 280.8 L670.3 281.9 L671.7 280.8 L673.1 282.4 L674.4 284.5 L676.0 285.1 L677.1 281.9 L678.5 278.9 L679.8 279.2 L681.4 281.9 L683.0 284.0 L684.6 285.6 L686.2 288.3 L687.9 291.0 L689.5 290.5 L690.8 286.7 L692.2 285.1 L693.6 287.2 L694.8 289.4 L696.5 290.2 L697.5 290.2" fill="none" stroke="#ff00ff" stroke-width="1" stroke-linejoin="round" shape-rendering="crispEdges"/>
<path d="M36.3 273.4 L37.5 268.8 L39.2 271.1 L40.9 276.8 L42.4 276.2 L43.8 275.1 L45.5 276.2 L47.2 278.5 L48.9 278.0 L50.7 277.4 L52.4 278.0 L54.1 280.8 L55.8 282.5 L57.5 279.7 L59.3 276.8 L61.0 276.2 L62.7 277.4 L64.4 275.7 L65.8 275.1 L67.6 276.2 L69.6 275.7 L71.1 276.2 L72.7 278.0 L74.8 275.7 L76.5 274.5 L78.2 276.2 L79.9 279.1 L81.6 278.5 L83.4 276.2 L85.1 274.5 L86.8 275.7 L88.5 279.1 L90.3 276.8 L92.0 274.5 L93.7 277.4 L95.2 281.4 L96.6 276.8 L98.3 273.9 L100.0 273.9 L101.7 275.1 L103.5 276.8 L105.2 275.1 L106.9 273.1 L108.6 272.2 L110.0 272.8 L110.7 277.5 L112.5 279.8 L114.2 281.0 L115.9 283.3 L117.6 286.1 L119.3 285.5 L121.1 283.8 L122.8 283.8 L124.5 282.7 L126.2 283.8 L128.0 282.7 L129.7 282.1 L131.4 283.8 L133.1 285.5 L134.8 288.4 L136.6 288.4 L138.3 287.3 L140.0 285.0 L141.5 282.7 L142.6 278.7 L143.8 280.4 L144.9 286.7 L146.1 291.9 L147.2 290.1 L148.6 287.3 L150.3 286.7 L152.1 289.6 L153.8 285.5 L154.9 283.5 L156.4 285.0 L157.8 284.4 L159.5 283.5 L161.2 285.0 L163.0 285.5 L164.7 284.4 L166.4 282.7 L167.9 282.7 L169.3 285.0 L171.0 287.3 L172.7 288.4 L174.4 287.3 L176.2 289.0 L177.5 292.4 L179.0 293.0 L180.5 294.7 L182.1 293.6 L183.6 292.4 L184.4 285.5 L185.0 285.0 L186.3 283.1 L187.8 283.7 L189.2 285.4 L190.6 284.6 L192.1 288.9 L193.8 292.9 L195.5 291.7 L197.2 288.9 L198.1 287.7 L199.5 289.4 L201.2 288.3 L203.0 286.0 L204.7 284.3 L206.2 282.0 L207.5 276.8 L208.9 275.7 L210.4 278.0 L212.1 280.3 L213.9 282.0 L215.6 281.4 L217.3 280.3 L219.0 279.7 L220.7 280.8 L222.5 282.5 L224.2 284.8 L225.9 285.1 L227.3 282.0 L228.8 278.0 L230.5 277.4 L232.2 279.1 L233.7 279.7 L235.1 277.4 L236.5 273.9 L238.0 272.2 L239.5 272.8 L240.8 272.2 L242.6 271.1 L243.7 273.9 L245.4 275.7 L247.1 274.5 L248.6 275.7 L250.0 278.5 L251.4 279.7 L252.9 278.0 L254.6 276.2 L256.0 274.5 L257.5 272.2 L259.0 271.6 L260.0 272.2 L261.7 268.8 L262.8 266.5 L264.2 267.1 L265.3 273.4 L266.5 279.7 L268.2 285.4 L269.9 286.6 L271.6 286.6 L273.4 285.4 L274.7 281.4 L276.2 276.2 L277.6 274.5 L279.1 278.5 L280.8 279.7 L282.5 276.2 L283.9 269.9 L285.1 267.1 L286.6 266.5 L287.7 271.1 L288.9 275.7 L290.4 276.8 L291.7 273.9 L293.5 271.6 L295.2 269.3 L296.9 268.8 L298.6 270.5 L300.3 272.2 L301.8 269.9 L303.2 268.2 L304.9 269.9 L306.6 270.5 L308.0 269.7 L309.5 272.2 L311.2 272.8 L312.4 275.1 L313.5 279.7 L314.7 284.3 L316.4 287.1 L318.1 285.8 L319.8 283.7 L321.6 284.3 L323.3 286.0 L325.0 288.3 L326.7 287.7 L328.5 286.6 L330.2 286.0 L331.9 284.8 L333.6 284.3 L335.0 285.4 L336.9 283.7 L338.6 280.8 L340.3 279.3 L342.1 281.4 L343.8 284.8 L345.5 284.3 L347.2 281.6 L348.9 283.7 L350.7 285.1 L352.4 283.1 L354.1 285.4 L355.8 290.0 L357.5 284.8 L359.3 280.3 L360.8 278.5 L362.1 279.7 L363.5 277.4 L365.0 279.1 L366.7 281.2 L368.5 282.0 L370.2 281.4 L371.9 280.8 L373.6 283.1 L375.3 288.3 L377.1 291.2 L378.4 292.3 L379.9 288.9 L381.6 287.7 L383.4 288.3 L385.1 286.6 L386.8 283.1 L388.5 282.3 L390.3 282.5 L392.0 283.7 L393.7 282.5 L395.4 280.8 L397.1 280.3 L398.9 280.5 L400.6 279.1 L402.3 277.4 L404.0 274.7 L405.2 275.7 L406.3 279.1 L408.0 280.3 L409.2 278.0 L410.0 277.4 L411.3 273.0 L413.0 270.1 L414.8 268.6 L416.5 268.1 L418.2 267.4 L419.9 267.8 L421.6 270.1 L423.4 273.0 L425.4 276.4 L426.8 274.7 L428.5 273.5 L430.3 273.0 L432.0 273.0 L433.7 272.4 L435.1 270.7 L436.2 270.1 L437.4 274.7 L438.5 278.7 L440.0 280.8 L441.5 278.5 L442.9 281.0 L444.6 283.3 L446.3 283.1 L448.0 282.1 L449.8 280.1 L451.5 278.1 L453.2 277.5 L454.9 276.6 L456.4 274.1 L457.8 275.8 L458.9 280.1 L460.3 283.1 L461.8 281.0 L463.5 277.5 L464.9 275.8 L466.4 277.5 L467.9 280.4 L469.5 283.3 L471.0 281.6 L472.5 277.3 L473.6 276.2 L474.8 280.1 L476.2 283.9 L477.5 284.7 L479.0 281.6 L480.8 278.7 L482.1 277.5 L483.6 277.5 L485.0 275.5 L486.3 277.4 L488.0 279.1 L490.3 275.7 L492.1 276.8 L493.8 276.6 L495.5 276.2 L497.0 277.4 L498.1 282.5 L499.3 288.9 L500.4 292.9 L501.6 287.1 L503.0 281.4 L504.3 279.7 L505.5 282.0 L507.0 285.4 L508.7 284.8 L510.4 284.3 L512.1 283.7 L513.9 283.1 L515.4 286.0 L516.7 289.4 L518.5 287.1 L519.9 285.1 L521.3 286.6 L523.0 288.9 L524.8 286.0 L526.5 282.5 L528.2 282.0 L529.4 279.7 L530.5 283.7 L531.9 287.7 L533.0 288.9 L534.5 287.1 L536.2 287.7 L538.0 289.4 L539.7 291.2 L541.4 292.0 L543.1 291.5 L544.8 289.4 L546.6 290.0 L548.3 288.3 L549.8 285.8 L551.2 286.6 L552.9 286.0 L554.6 287.7 L556.3 289.4 L558.0 287.7 L559.2 284.8 L560.0 284.3 L561.3 286.0 L562.8 288.9 L564.4 290.0 L565.9 288.3 L567.6 285.4 L569.3 282.5 L571.1 282.8 L572.8 283.7 L574.5 283.1 L576.2 282.5 L577.7 286.0 L579.1 290.6 L580.3 292.3 L581.6 288.3 L583.1 283.1 L584.6 282.3 L586.0 284.8 L587.4 288.3 L588.9 287.1 L590.4 283.7 L592.0 282.5 L593.5 282.5 L594.9 285.4 L596.5 288.9 L598.0 288.3 L599.8 286.2 L601.5 285.8 L603.0 285.1 L604.4 280.8 L605.7 280.5 L607.2 282.5 L608.9 282.0 L610.7 280.8 L612.2 278.0 L613.5 273.9 L614.9 272.0 L616.4 273.9 L617.9 278.5 L619.3 282.0 L621.0 281.2 L622.7 279.7 L624.4 276.2 L625.6 275.1 L626.7 278.0 L628.2 282.0 L629.6 281.4 L631.3 279.7 L633.0 278.5 L635.0 278.0 L635.7 277.0 L637.4 276.5 L639.0 276.5 L640.6 277.6 L642.0 277.6 L643.3 274.3 L644.9 271.1 L646.5 269.5 L648.1 267.4 L649.7 265.7 L650.8 266.8 L651.9 271.7 L653.2 276.5 L654.5 279.7 L656.2 281.3 L657.8 279.7 L659.2 277.6 L660.2 280.8 L661.5 286.2 L662.8 286.7 L664.2 284.0 L665.8 280.2 L667.4 278.1 L669.1 277.6 L670.3 278.1 L671.7 277.6 L673.1 279.2 L674.4 281.3 L676.0 280.8 L677.1 276.5 L678.5 272.7 L679.8 272.2 L681.4 273.3 L683.0 275.4 L684.6 277.6 L686.2 280.8 L687.9 282.9 L689.5 281.3 L690.8 278.1 L692.2 276.5 L693.6 279.2 L694.8 280.8 L696.5 281.3 L697.5 281.3" fill="none" stroke="#ff8000" stroke-width="1" stroke-linejoin="round" shape-rendering="crispEdges"/>
<path d="M36.0 193.6 L37.9 184.3 L39.3 193.6 L40.7 203.6 L42.6 212.9 L44.3 213.3 L45.7 209.3 L48.3 200.7 L50.0 204.3 L52.1 210.7 L54.0 219.3 L55.4 222.9 L56.9 213.6 L58.6 205.4 L60.3 206.7 L62.1 214.3 L64.3 217.9 L66.4 220.7 L68.3 222.9 L70.0 218.6 L71.7 216.7 L73.6 220.7 L75.7 219.6 L77.1 222.1 L78.6 232.1 L80.3 240.0 L81.7 235.0 L83.1 228.6 L85.0 223.6 L86.9 219.3 L88.6 217.6 L90.0 221.4 L92.1 226.4 L94.0 231.1 L95.7 229.3 L97.4 223.6 L99.3 218.6 L101.0 216.9 L102.9 216.4 L104.6 216.7 L106.4 212.1 L108.6 207.9 L110.3 211.4 L111.7 213.3 L113.6 219.3 L115.3 223.6 L117.1 224.3 L118.6 225.0 L120.3 220.0 L122.1 214.3 L124.0 217.1 L125.7 219.6 L127.4 218.6 L128.9 215.0 L130.0 206.4 L131.9 209.3 L133.3 215.0 L134.7 218.9 L136.4 217.1 L138.1 219.3 L140.0 215.0 L142.4 209.7 L144.3 213.6 L146.1 218.3 L147.9 216.4 L149.6 217.1 L151.0 215.0 L152.9 205.0 L154.6 198.6 L156.4 200.7 L158.6 199.7 L160.3 207.9 L162.1 210.3 L163.9 202.9 L165.7 194.3 L167.6 188.6 L169.6 189.3 L171.4 192.1 L173.3 192.1 L174.7 187.1 L176.4 190.7 L178.1 198.6 L180.0 204.3 L181.9 206.0 L183.6 201.4 L185.0 194.3 L186.4 198.6 L187.9 208.6 L189.6 215.0 L191.0 213.1 L192.4 215.7 L194.0 218.3 L195.7 212.9 L197.9 209.7 L199.6 214.3 L201.4 213.6 L203.3 208.6 L205.0 203.6 L207.1 198.9 L209.0 202.9 L210.7 205.4 L212.4 205.7 L214.3 210.7 L216.1 212.9 L217.9 210.0 L219.6 209.7 L221.4 212.1 L223.3 215.4 L225.0 216.0 L226.0 212.9 L227.4 209.3 L229.3 211.4 L231.4 214.3 L233.6 218.3 L235.0 212.9 L236.9 203.6 L238.9 195.7 L241.1 189.3 L242.9 194.3 L244.6 200.7 L246.0 202.4 L247.9 201.4 L249.7 199.7 L251.4 200.3 L253.1 199.3 L255.0 203.6 L256.9 207.1 L258.6 210.7 L260.0 207.9 L261.4 198.6 L262.9 188.3 L264.3 192.9 L265.7 205.7 L266.9 215.7 L268.6 219.3 L270.3 216.4 L271.7 215.7 L273.6 219.3 L275.4 216.4 L276.9 215.0 L278.6 217.1 L280.0 212.1 L281.7 205.0 L284.3 203.3 L286.4 206.0 L288.6 209.3 L290.3 205.0 L292.4 199.3 L294.3 195.0 L296.0 188.6 L297.1 186.4 L298.6 189.3 L300.0 193.1 L301.7 192.1 L303.6 188.6 L305.3 191.1 L307.1 190.0 L309.3 190.3 L311.1 185.4 L312.9 190.7 L314.3 199.3 L315.4 206.0 L317.1 202.1 L318.6 198.6 L320.0 194.3 L321.0 191.0 L322.4 191.4 L324.3 195.0 L326.1 193.6 L327.9 192.9 L329.3 195.0 L331.0 195.3 L332.9 191.4 L334.7 190.4 L336.4 189.6 L338.1 187.9 L339.6 182.4 L341.4 179.3 L343.3 181.9 L344.7 185.7 L346.1 190.0 L347.6 180.7 L349.3 174.7 L351.0 175.7 L352.9 177.9 L354.7 181.9 L356.4 183.3 L357.9 177.1 L359.6 170.7 L361.0 167.6 L362.9 170.4 L364.7 175.0 L366.4 174.3 L368.1 177.9 L369.7 179.3 L371.1 174.3 L372.1 170.7 L373.3 177.1 L374.7 185.0 L376.1 192.1 L377.6 195.3 L379.3 191.4 L380.7 184.3 L382.4 182.4 L384.3 181.4 L386.1 178.6 L387.6 177.1 L389.3 178.6 L390.7 175.0 L392.9 172.1 L394.7 171.4 L396.7 174.3 L398.6 175.3 L400.3 173.9 L401.9 177.1 L403.6 172.9 L405.3 167.6 L406.7 172.1 L408.6 176.7 L410.4 175.7 L412.1 180.4 L413.9 178.1 L415.0 177.9 L415.7 172.1 L417.1 167.9 L418.6 166.4 L420.3 168.6 L421.7 178.6 L423.6 184.3 L425.0 187.9 L426.9 182.4 L428.6 177.6 L430.3 180.7 L432.4 185.0 L434.3 181.9 L436.4 179.6 L437.9 186.4 L440.0 192.9 L442.1 188.6 L444.0 191.9 L446.0 187.9 L447.9 185.7 L449.7 180.7 L451.4 176.7 L453.6 176.1 L455.7 173.6 L457.1 179.3 L458.9 187.9 L460.7 192.4 L462.4 190.0 L464.0 184.3 L465.7 178.6 L467.1 183.6 L468.6 195.0 L470.3 203.9 L472.1 201.4 L473.9 198.6 L476.4 202.9 L478.3 200.0 L480.7 199.0 L482.9 201.4 L484.6 192.9 L486.4 194.3 L488.3 197.1 L490.0 187.9 L491.7 177.1 L492.9 174.7 L494.6 180.7 L496.4 186.4 L497.9 196.4 L499.7 203.9 L501.1 195.0 L502.6 185.0 L504.3 182.9 L506.0 192.9 L507.4 194.7 L508.9 193.6 L510.0 185.7 L511.4 185.0 L512.9 184.6 L514.7 189.3 L516.4 197.9 L518.1 191.4 L520.0 183.6 L521.4 186.4 L522.9 189.3 L524.3 182.9 L526.1 174.3 L527.9 172.1 L529.3 170.7 L530.7 180.0 L532.4 191.1 L534.3 182.9 L536.1 178.6 L538.1 182.1 L540.0 180.7 L542.1 175.7 L543.9 174.3 L545.7 172.6 L547.1 172.1 L549.0 174.3 L550.7 180.0 L553.3 184.0 L555.0 181.4 L556.7 178.6 L558.1 171.4 L559.6 165.7 L561.0 164.6 L562.4 168.6 L564.3 172.1 L566.4 168.6 L568.6 166.4 L570.0 168.6 L571.7 171.7 L573.6 170.7 L575.3 168.9 L577.1 172.9 L578.6 179.3 L580.0 182.1 L581.7 177.9 L583.6 174.3 L585.3 172.6 L587.1 171.7 L589.0 170.7 L590.7 168.6 L592.9 170.7 L594.7 177.9 L596.4 185.0 L597.9 182.9 L599.3 177.4 L601.4 176.9 L602.9 174.3 L604.3 169.7 L605.0 169.3 L606.4 175.7 L608.3 175.4 L611.4 174.6 L612.9 167.1 L614.6 159.3 L616.4 161.4 L618.3 169.3 L620.0 170.3 L621.7 167.9 L623.6 165.7 L624.6 160.0 L625.7 157.4 L626.9 162.9 L627.9 175.7 L629.3 181.4 L631.1 180.7 L632.6 182.1 L634.3 177.9 L636.4 173.6 L638.3 175.0 L640.0 178.6 L641.4 180.0 L642.9 174.3 L644.6 172.1 L646.0 168.6 L647.6 157.4 L649.3 161.4 L650.7 175.7 L651.7 178.9 L653.1 176.4 L654.6 180.0 L656.0 184.3 L657.4 187.9 L658.9 181.7 L660.3 187.1 L662.1 194.0 L663.6 193.6 L665.0 187.1 L666.9 180.0 L668.6 181.4 L670.3 182.6 L672.1 182.1 L673.9 186.4 L675.4 181.4 L677.1 174.3 L678.3 172.6 L680.0 175.0 L681.7 178.6 L683.6 180.7 L685.4 181.4 L686.4 182.1 L688.6 178.6 L691.4 175.7 L693.6 173.6 L695.4 171.7 L697.1 172.9 L697.5 172.9" fill="none" stroke="#99cc00" stroke-width="1" stroke-linejoin="round" shape-rendering="crispEdges"/>
<g font-size="12">
<text x="33.1" y="22" textLength="22.6" lengthAdjust="spacingAndGlyphs">Bias</text>
<text x="63.1" y="22" textLength="49.5" lengthAdjust="spacingAndGlyphs">evolution</text>
<text x="120" y="22" textLength="39" lengthAdjust="spacingAndGlyphs">MSG-2</text>
<text x="166" y="22" textLength="25.6" lengthAdjust="spacingAndGlyphs">IODC</text>
<text x="198" y="22" textLength="26" lengthAdjust="spacingAndGlyphs">from</text>
<text x="232" y="22" textLength="43" lengthAdjust="spacingAndGlyphs">PGE00P</text>
<text x="282.6" y="22" textLength="25.4" lengthAdjust="spacingAndGlyphs">from</text>
<text x="316" y="22" textLength="46" lengthAdjust="spacingAndGlyphs">pxyclear</text>
<text x="369" y="22" textLength="41" lengthAdjust="spacingAndGlyphs">dataset</text>
<text x="418" y="22" textLength="28.4" lengthAdjust="spacingAndGlyphs">using</text>
<text x="454" y="22" textLength="35" lengthAdjust="spacingAndGlyphs">robust</text>
<text x="496" y="22" textLength="58" lengthAdjust="spacingAndGlyphs">regression</text>
<text x="561" y="22" textLength="137" lengthAdjust="spacingAndGlyphs">(diffBT@standard_value)</text>
</g>
<text x="85" y="54" font-size="10" textLength="27" lengthAdjust="spacingAndGlyphs" style="fill:#000000">IR03.9</text>
<path d="M118 53.5H130" stroke="#000000" stroke-width="1" shape-rendering="crispEdges"/>
<text x="154" y="54" font-size="10" textLength="27" lengthAdjust="spacingAndGlyphs" style="fill:#ff0000">WV6.2</text>
<path d="M186 53.5H203" stroke="#ff0000" stroke-width="1" shape-rendering="crispEdges"/>
<text x="224" y="54" font-size="10" textLength="27" lengthAdjust="spacingAndGlyphs" style="fill:#00ff00">WV7.3</text>
<path d="M256 53.5H273" stroke="#00ff00" stroke-width="1" shape-rendering="crispEdges"/>
<text x="295" y="54" font-size="10" textLength="27" lengthAdjust="spacingAndGlyphs" style="fill:#0000ff">IR08.7</text>
<path d="M328 53.5H340" stroke="#0000ff" stroke-width="1" shape-rendering="crispEdges"/>
<text x="365" y="54" font-size="10" textLength="27" lengthAdjust="spacingAndGlyphs" style="fill:#00ffff">IR09.7</text>
<path d="M398 53.5H410" stroke="#00ffff" stroke-width="1" shape-rendering="crispEdges"/>
<text x="435" y="54" font-size="10" textLength="27" lengthAdjust="spacingAndGlyphs" style="fill:#ff00ff">IR10.8</text>
<path d="M468 53.5H480" stroke="#ff00ff" stroke-width="1" shape-rendering="crispEdges"/>
<text x="505" y="54" font-size="10" textLength="27" lengthAdjust="spacingAndGlyphs" style="fill:#ff8000">IR12.0</text>
<path d="M538 53.5H550" stroke="#ff8000" stroke-width="1" shape-rendering="crispEdges"/>
<text x="575" y="54" font-size="10" textLength="27" lengthAdjust="spacingAndGlyphs" style="fill:#99cc00">IR13.4</text>
<path d="M608 53.5H620" stroke="#99cc00" stroke-width="1" shape-rendering="crispEdges"/>
<text x="32" y="107" font-size="10" text-anchor="end">2</text>
<text x="32" y="209" font-size="10" text-anchor="end">1</text>
<text x="32" y="311" font-size="10" text-anchor="end">0</text>
<text x="32" y="413" font-size="10" text-anchor="end">−1</text>
<text x="35.5" y="498.5" font-size="10" text-anchor="middle">Jun</text>
<text x="68.5" y="498.5" font-size="10" text-anchor="middle">Aug</text>
<text x="117.5" y="498.5" font-size="10" text-anchor="middle">Nov</text>
<text x="149.5" y="498.5" font-size="10" text-anchor="middle">Jan</text>
<text x="197.5" y="498.5" font-size="10" text-anchor="middle">Apr</text>
<text x="230.5" y="498.5" font-size="10" text-anchor="middle">Jun</text>
<text x="279.5" y="498.5" font-size="10" text-anchor="middle">Sep</text>
<text x="311.5" y="498.5" font-size="10" text-anchor="middle">Nov</text>
<text x="360.5" y="498.5" font-size="10" text-anchor="middle">Feb</text>
<text x="392.5" y="498.5" font-size="10" text-anchor="middle">Apr</text>
<text x="441.5" y="498.5" font-size="10" text-anchor="middle">Jul</text>
<text x="490.5" y="498.5" font-size="10" text-anchor="middle">Oct</text>
<text x="522.5" y="498.5" font-size="10" text-anchor="middle">Dec</text>
<text x="570.5" y="498.5" font-size="10" text-anchor="middle">Mar</text>
<text x="603.5" y="498.5" font-size="10" text-anchor="middle">May</text>
<text x="652.5" y="498.5" font-size="10" text-anchor="middle">Aug</text>
<text x="684.5" y="498.5" font-size="10" text-anchor="middle">Oct</text>
<text x="149.5" y="525" font-size="10" text-anchor="middle">2023</text>
<text x="344.5" y="525" font-size="10" text-anchor="middle">2024</text>
<text x="539.5" y="525" font-size="10" text-anchor="middle">2025</text>
<text x="366" y="535" font-size="10" text-anchor="middle" textLength="77" lengthAdjust="spacingAndGlyphs">IR03.9 SEVIRI BT</text>
<text transform="translate(11 351) rotate(-90)" font-size="10" textLength="27.5" lengthAdjust="spacingAndGlyphs">IR03.9</text>
<text transform="translate(11 316.5) rotate(-90)" font-size="10" textLength="94" lengthAdjust="spacingAndGlyphs">ECMWF+RTTOV-11.2</text>
<text transform="translate(11 217.5) rotate(-90)" font-size="10" textLength="39" lengthAdjust="spacingAndGlyphs">synthetic</text>
<text transform="translate(11 171.5) rotate(-90)" font-size="10" textLength="10" lengthAdjust="spacingAndGlyphs">BT</text>
</svg>
</body></html>
